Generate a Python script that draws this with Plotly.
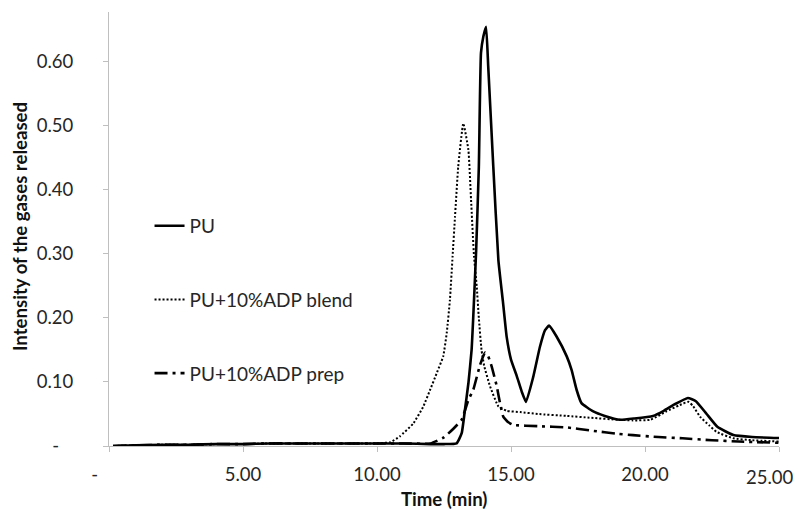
import plotly.graph_objects as go

# ---- data ----
pu_t = [0.15, 1, 2, 3, 4, 5, 6, 7, 8, 9, 10, 11, 12, 12.5, 12.97, 13.16, 13.28, 13.41,
        13.53, 13.59, 13.7, 13.8, 13.88, 13.97, 14.07, 14.15, 14.34, 14.53, 14.7, 14.84,
        15.0, 15.21, 15.4, 15.56, 15.83, 16.08, 16.27, 16.42, 16.7, 17.08, 17.26, 17.45,
        17.63, 18.07, 18.5, 19.07, 19.6, 20.3, 20.7, 21.1, 21.6, 21.9, 22.3, 22.7, 23.3,
        24.0, 25.0]
pu_v = [0.000, 0.001, 0.002, 0.002, 0.003, 0.003, 0.004, 0.004, 0.004, 0.004, 0.004,
        0.004, 0.003, 0.003, 0.004, 0.020, 0.056, 0.098, 0.150, 0.200, 0.306, 0.436, 0.614,
        0.640, 0.655, 0.593, 0.436, 0.290, 0.225, 0.170, 0.135, 0.110, 0.085, 0.069, 0.108,
        0.155, 0.181, 0.188, 0.171, 0.140, 0.119, 0.0875, 0.067, 0.054, 0.047, 0.041, 0.043,
        0.047, 0.055, 0.065, 0.075, 0.070, 0.050, 0.030, 0.017, 0.014, 0.0125]

blend_t = [0.15, 1, 2, 3, 4, 5, 6, 7, 8, 9, 10, 10.5, 10.85, 11.35, 11.72, 11.98, 12.23,
           12.47, 12.6, 12.72, 12.82, 12.91, 13.03, 13.22, 13.41, 13.51, 13.62, 13.72, 13.8,
           13.9, 14.0, 14.22, 14.53, 14.84, 15.34, 16.0, 17.08, 18.0, 19.0, 19.55, 20.2,
           20.8, 21.3, 21.62, 21.8, 22.05, 22.4, 22.67, 23.3, 24.0, 25.0]
blend_v = [0.000, 0.001, 0.002, 0.002, 0.003, 0.003, 0.004, 0.004, 0.004, 0.004, 0.004,
           0.006, 0.015, 0.035, 0.061, 0.0875, 0.114, 0.140, 0.176, 0.228, 0.296, 0.358,
           0.436, 0.504, 0.4625, 0.384, 0.296, 0.250, 0.200, 0.150, 0.125, 0.093, 0.062,
           0.055, 0.053, 0.050, 0.047, 0.044, 0.041, 0.040, 0.041, 0.054, 0.064, 0.069,
           0.062, 0.046, 0.032, 0.022, 0.012, 0.009, 0.007]

prep_t = [0.15, 1, 2, 3, 4, 5, 6, 7, 8, 9, 10, 11, 12, 12.48, 12.85, 13.16, 13.41, 13.59,
          13.84, 14.03, 14.15, 14.28, 14.47, 14.6, 14.71, 14.9, 15.09, 16.0, 17.08, 18.0,
          19.0, 19.55, 20.5, 21.4, 22.5, 23.5, 25.0]
prep_v = [0.000, 0.001, 0.002, 0.002, 0.003, 0.003, 0.004, 0.004, 0.004, 0.004, 0.004,
          0.004, 0.004, 0.013, 0.027, 0.041, 0.072, 0.0875, 0.126, 0.146, 0.140, 0.124,
          0.093, 0.065, 0.046, 0.037, 0.033, 0.031, 0.029, 0.024, 0.019, 0.017, 0.014,
          0.012, 0.009, 0.007, 0.005]

names = ["PU", "PU+10%ADP blend", "PU+10%ADP prep"]

x_tickvals = [0, 5, 10, 15, 20, 25]
x_ticktext = ["-\u00a0\u00a0\u00a0\u00a0\u00a0\u00a0", "5.00", "10.00", "15.00", "20.00", "25.00"]
y_tickvals = [0, 0.1, 0.2, 0.3, 0.4, 0.5, 0.6]
y_ticktext = ["-\u00a0\u00a0\u00a0", "0.10", "0.20", "0.30", "0.40", "0.50", "0.60"]
x_title = "Time (min)"
y_title = "Intensity of the gases released"

FONT = "Lato"
TICK = 18.5

fig = go.Figure()
fig.add_trace(go.Scatter(x=pu_t, y=pu_v, mode="lines", name=names[0], legendgroup="a",
                         line=dict(color="black", width=2.6, shape="spline", smoothing=0.4)))
fig.add_trace(go.Scatter(x=blend_t, y=blend_v, mode="lines", name=names[1], legendgroup="b",
                         line=dict(color="black", width=2, dash="2px,2px", shape="spline", smoothing=0.4)))
fig.add_trace(go.Scatter(x=prep_t, y=prep_v, mode="lines", name=names[2], legendgroup="c",
                         line=dict(color="black", width=2.6, dash="13px,5px,3px,5px", shape="spline", smoothing=0.4)))

# the last x tick label is drawn as an annotation so it can sit inside the page edge
shown_ticktext = x_ticktext[:-1] + [""]

fig.update_layout(
    width=799, height=509,
    margin=dict(l=109, r=20, t=12, b=63, autoexpand=False),
    paper_bgcolor="white", plot_bgcolor="white",
    font=dict(family=FONT, color="#262626", size=TICK),
    showlegend=True,
    legend=dict(x=0.0605, y=0.551, xanchor="left", yanchor="top",
                bgcolor="rgba(0,0,0,0)", tracegroupgap=46,
                font=dict(family=FONT, size=19, color="#262626")),
    xaxis=dict(range=[0, 25], tickvals=x_tickvals, ticktext=shown_ticktext, automargin=False,
               showgrid=False, zeroline=False, showline=True, linecolor="#bfbfbf", linewidth=1,
               ticks="outside", ticklen=5, tickcolor="#bfbfbf", ticklabelstandoff=7,
               ticklabeloverflow="allow",
               tickfont=dict(family=FONT, size=TICK, color="#262626")),
    yaxis=dict(range=[0, 0.678], tickvals=y_tickvals, ticktext=y_ticktext, automargin=False,
               showgrid=False, zeroline=False, showline=True, linecolor="#bfbfbf", linewidth=1,
               ticks="outside", ticklen=5, tickcolor="#bfbfbf", ticklabelstandoff=26,
               ticklabeloverflow="allow",
               tickfont=dict(family=FONT, size=TICK, color="#262626")),
    annotations=[
        dict(text=x_ticktext[-1], xref="x", yref="paper", x=x_tickvals[-1], y=0,
             xanchor="right", yanchor="top", xshift=17, yshift=-18, showarrow=False,
             font=dict(family=FONT, size=TICK, color="#262626")),
        dict(text="<b>%s</b>" % x_title, xref="paper", yref="paper",
             x=(444 - 109) / 670, y=-(499 - 446) / 434, xanchor="center", yanchor="middle",
             showarrow=False, font=dict(family=FONT, size=18.6, color="#111111")),
        dict(text="<b>%s</b>" % y_title, xref="paper", yref="paper", textangle=-90,
             x=-(109 - 20) / 670, y=(446 - 226) / 434, xanchor="center", yanchor="middle",
             showarrow=False, font=dict(family=FONT, size=18.6, color="#111111")),
    ],
)

fig.write_html("out.html", config={"displayModeBar": False},
               post_script="document.body.style.margin='0';document.body.style.overflow='hidden';")
